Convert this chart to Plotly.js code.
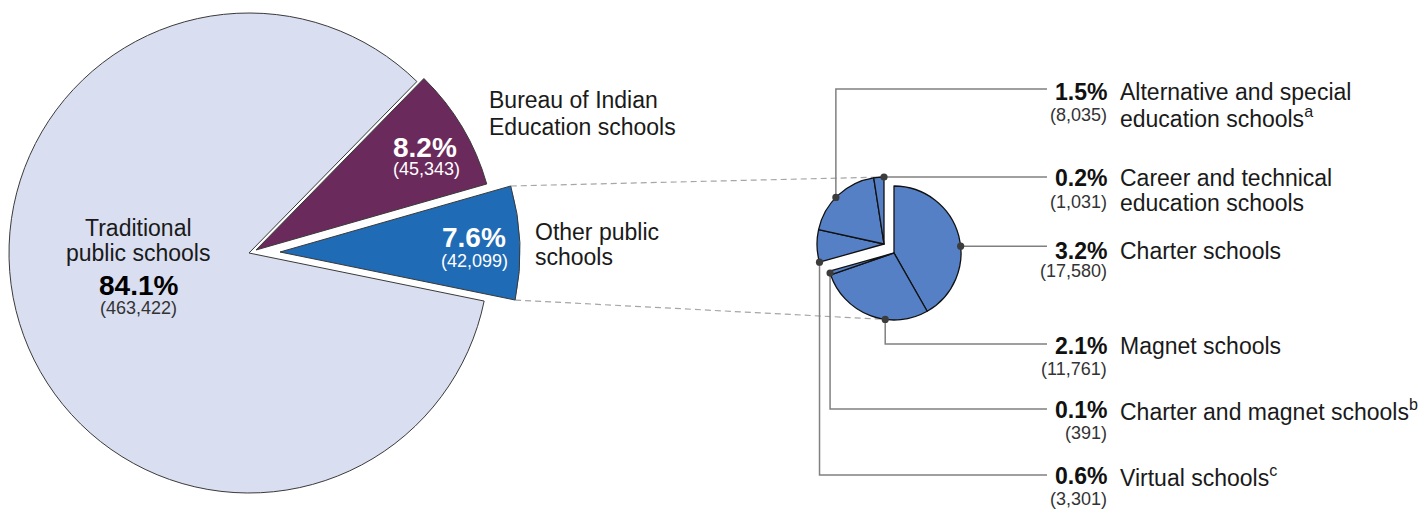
<!DOCTYPE html>
<html><head><meta charset="utf-8">
<script src="https://cdn.plot.ly/plotly-3.0.1.min.js"></script>
<style>html,body{margin:0;padding:0;background:#fff;overflow:hidden}#chart{width:1428px;height:512px}</style>
</head><body><div id="chart"></div>
<script>
// ---------------- data ----------------
const mainLabels = ['Bureau of Indian Education schools', 'Other public schools', 'Traditional public schools'];
const mainValues = [45343, 42099, 463422];
const mainLabelLines = [['Bureau of Indian', 'Education schools'], ['Other public', 'schools'], ['Traditional', 'public schools']];

const subLabels = ['Charter schools', 'Magnet schools', 'Charter and magnet schools', 'Virtual schools',
                   'Alternative and special education schools', 'Career and technical education schools'];
const subValues = [17580, 11761, 391, 3301, 8035, 1031];
const subLabelLines = [['Charter schools'], ['Magnet schools'], ['Charter and magnet schools<sup>b</sup>'],
                       ['Virtual schools<sup>c</sup>'], ['Alternative and special', 'education schools<sup>a</sup>'],
                       ['Career and technical', 'education schools']];

// ---------------- layout constants (pixels) ----------------
const W = 1428, H = 512;
const FONT = 'Liberation Sans, Arial, Helvetica, sans-serif';
const mainColors = ['#6b2a5c', '#1f6bb5', '#d9def0'];
const subColor = '#5580c5';
const T = 'rgba(0,0,0,0)';
const R_MAIN = 240;
const mainCenters = [[256, 250], [280, 252], [249, 253]]; // BIE, Other, Traditional
const MAIN_ROT = 44.4;
const R_SUB = 67;
const subGroupCenters = [[894, 253], [884, 244]];           // right group (first 3), left group (last 3)
const subGroupOf = [0, 0, 0, 1, 1, 1];
const anchorFrac = [0.56, 0.37, 0.5, 0.0, 0.46, 1.0];
const rowLineY = [null, 344, 409, 475, 89, null];
const rowTextY = [251, 346, 410, 476, 92, 178];
const countDy = [20, 23, 23, 23, 23, 24];
const LEAD_END = 1047, PCT_RIGHT = 1109, LABEL_LEFT = 1118;

const total = mainValues.reduce((a, b) => a + b, 0);
const subTotal = subValues.reduce((a, b) => a + b, 0);
const pct = v => (v / total * 100).toFixed(1) + '%';
const cnt = v => '(' + v.toLocaleString('en-US') + ')';
const px = x => x / W;
const py = y => 1 - y / H;
function pt(c, r, a) { const t = a * Math.PI / 180; return [c[0] + r * Math.sin(t), c[1] - r * Math.cos(t)]; }

// slice angles (clockwise from 12 o'clock)
function angles(values, rot) {
  const tot = values.reduce((a, b) => a + b, 0);
  let cur = rot; const out = [];
  values.forEach(v => { const s = cur; cur += v / tot * 360; out.push([s, cur]); });
  return out;
}
const mainAng = angles(mainValues, MAIN_ROT);
const subAng = angles(subValues, 0);

const traces = [];
// big pie: one trace per visible slice, each with its own centre
[2, 0, 1].forEach(k => {
  const c = mainCenters[k];
  traces.push({
    type: 'pie', values: mainValues, labels: mainLabels, sort: false, direction: 'clockwise', rotation: MAIN_ROT,
    textinfo: 'none', textposition: 'none', hoverinfo: 'none', showlegend: false,
    marker: { colors: mainColors.map((col, i) => i === k ? col : T),
              line: { color: mainColors.map((col, i) => i === k ? '#3a3a3a' : T), width: mainColors.map((col, i) => i === k ? 1 : 0) } },
    domain: { x: [px(c[0] - R_MAIN), px(c[0] + R_MAIN)], y: [py(c[1] + R_MAIN), py(c[1] - R_MAIN)] }
  });
});
// small pie: two groups
[0, 1].forEach(g => {
  const c = subGroupCenters[g];
  traces.push({
    type: 'pie', values: subValues, labels: subLabels, sort: false, direction: 'clockwise', rotation: 0,
    textinfo: 'none', textposition: 'none', hoverinfo: 'none', showlegend: false,
    marker: { colors: subValues.map((v, i) => subGroupOf[i] === g ? subColor : T),
              line: { color: subValues.map((v, i) => subGroupOf[i] === g ? '#111' : T), width: subValues.map((v, i) => subGroupOf[i] === g ? 1.3 : 0) } },
    domain: { x: [px(c[0] - R_SUB), px(c[0] + R_SUB)], y: [py(c[1] + R_SUB), py(c[1] - R_SUB)] }
  });
});

// anchor dots on the small pie
const dots = subValues.map((v, i) => {
  const a = subAng[i][0] + anchorFrac[i] * (subAng[i][1] - subAng[i][0]);
  return pt(subGroupCenters[subGroupOf[i]], R_SUB, a);
});

// dashed connectors from the "Other public schools" slice corners
const oc = mainCenters[1];
const cornerTop = pt(oc, R_MAIN, mainAng[1][0]);
const cornerBot = pt(oc, R_MAIN, mainAng[1][1]);
const dTop = dots[5], dBot = dots[1];
traces.push({ type: 'scatter', mode: 'lines', x: [cornerTop[0], dTop[0], null, cornerBot[0], dBot[0]],
  y: [cornerTop[1], dTop[1], null, cornerBot[1], dBot[1]], line: { color: '#a6a6a6', width: 1.2, dash: '6px,4px' },
  hoverinfo: 'skip', showlegend: false });

// leader lines
const lx = [], ly = [];
dots.forEach((d, i) => {
  const yy = rowLineY[i] === null ? d[1] : rowLineY[i];
  lx.push(d[0], d[0], LEAD_END, null); ly.push(d[1], yy, yy, null);
});
traces.push({ type: 'scatter', mode: 'lines', x: lx, y: ly, line: { color: '#808080', width: 1.5 }, hoverinfo: 'skip', showlegend: false });

// annotations
const ann = [];
function A(x, y, text, size, color, xanchor, bold) {
  ann.push({ xref: 'x', yref: 'y', x: x, y: y, text: bold ? '<b>' + text + '</b>' : text, showarrow: false,
    xanchor: xanchor, yanchor: 'middle', font: { family: FONT, size: size, color: color } });
}
// Traditional
A(138, 228, mainLabelLines[2][0], 23, '#1a1a1a', 'center');
A(138, 253, mainLabelLines[2][1], 23, '#1a1a1a', 'center');
A(138, 285, pct(mainValues[2]), 28, '#000', 'center', true);
A(138, 308, cnt(mainValues[2]), 18, '#333', 'center');
// BIE
A(487, 100, mainLabelLines[0][0], 23, '#1a1a1a', 'left');
A(487, 127, mainLabelLines[0][1], 23, '#1a1a1a', 'left');
A(425, 147, pct(mainValues[0]), 28, '#fff', 'center', true);
A(426, 169, cnt(mainValues[0]), 18, '#fff', 'center');
// Other public
A(533, 232, mainLabelLines[1][0], 23, '#1a1a1a', 'left');
A(533, 257, mainLabelLines[1][1], 23, '#1a1a1a', 'left');
A(474, 237, pct(mainValues[1]), 28, '#fff', 'center', true);
A(474, 261, cnt(mainValues[1]), 18, '#fff', 'center');
// sub labels
subValues.forEach((v, i) => {
  const y = rowTextY[i];
  A(PCT_RIGHT, y, pct(v), 23, '#111', 'right', true);
  A(PCT_RIGHT, y + countDy[i], cnt(v), 18, '#333', 'right');
  subLabelLines[i].forEach((line, j) => A(LABEL_LEFT, y + j * 25, line, 23, '#1a1a1a', 'left'));
});

const shapes = dots.map(d => ({ type: 'circle', layer: 'above', xref: 'x', yref: 'y', xsizemode: 'pixel', ysizemode: 'pixel',
  xanchor: d[0], yanchor: d[1], x0: -3.6, x1: 3.6, y0: -3.6, y1: 3.6, fillcolor: '#3c3c3c', line: { width: 0 } }));

const layout = {
  width: W, height: H, margin: { l: 0, r: 0, t: 0, b: 0, pad: 0 }, paper_bgcolor: '#fff', plot_bgcolor: 'rgba(0,0,0,0)',
  showlegend: false, hovermode: false,
  xaxis: { range: [0, W], visible: false, fixedrange: true, domain: [0, 1] },
  yaxis: { range: [H, 0], visible: false, fixedrange: true, domain: [0, 1] },
  annotations: ann, shapes: shapes
};
Plotly.newPlot('chart', traces, layout, { staticPlot: true, displayModeBar: false });
</script></body></html>
